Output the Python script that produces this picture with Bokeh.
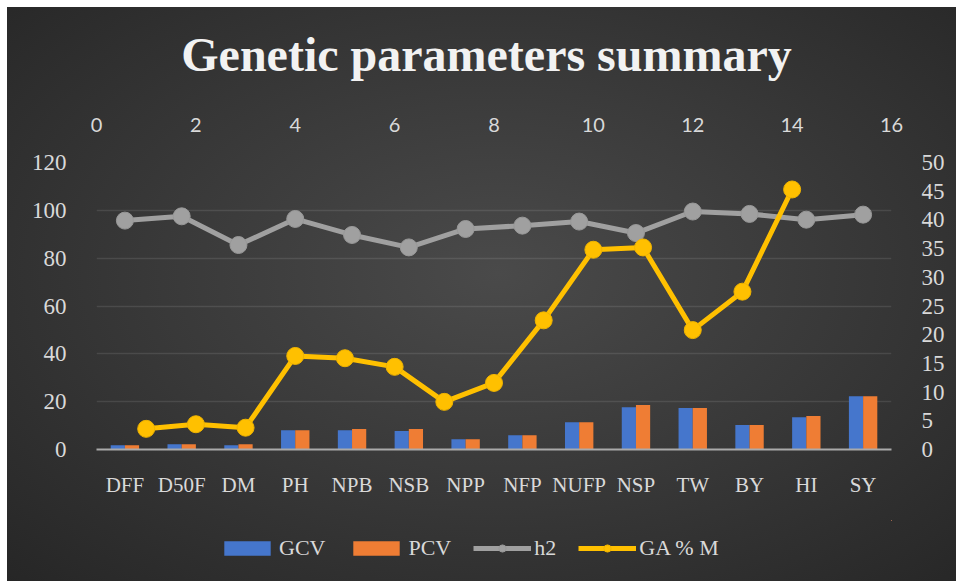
from bokeh.plotting import figure
from bokeh.layouts import column
from bokeh.models import (Range1d, LinearAxis, SingleIntervalTicker, FixedTicker,
                          Legend, LegendItem, ColumnDataSource, Label)
from bokeh.transform import dodge
from bokeh.embed import file_html
from bokeh.resources import INLINE

# ---- data ----
categories = ["DFF", "D50F", "DM", "PH", "NPB", "NSB", "NPP", "NFP", "NUFP", "NSP", "TW", "BY", "HI", "SY"]
gcv = [1.8, 2.2, 1.8, 8.1, 8.1, 7.7, 4.3, 6.0, 11.4, 17.7, 17.3, 10.2, 13.5, 22.3]
pcv = [1.8, 2.2, 2.2, 8.1, 8.6, 8.6, 4.3, 6.0, 11.4, 18.6, 17.3, 10.2, 14.0, 22.3]
h2 = [95.7, 97.5, 85.5, 96.4, 89.7, 84.5, 92.2, 93.6, 95.3, 90.5, 99.5, 98.5, 96.1, 98.2]
ga_x = [1, 2, 3, 4, 5, 6, 7, 8, 9, 10, 11, 12, 13, 14]
ga_m = [3.6, 4.4, 3.8, 16.3, 15.9, 14.4, 8.3, 11.6, 22.5, 34.8, 35.2, 20.8, 27.5, 45.3]

title_text = "Genetic parameters summary"
series_names = ["GCV", "PCV", "h2", "GA % M"]
left_range = (0, 120)
left_step = 20
right_range = (0, 50)
right_step = 5
top_range = (0, 16)
top_step = 2

TXT = "#d9d9d9"
SERIF = "Liberation Serif"
C_GCV, C_PCV, C_H2, C_GA = "#4576cc", "#ef7d34", "#a0a0a0", "#ffc000"
W = 956

# category slots: index positions on the primary (bottom) axis
cat_idx = list(range(len(categories)))


def bare(h, xr=(0, 1), yr=(0, 1)):
    f = figure(width=W, height=h, output_backend="svg", toolbar_location=None,
               x_range=Range1d(*xr), y_range=Range1d(*yr),
               x_axis_type=None, y_axis_type=None,
               min_border=0, border_fill_color=None, background_fill_color=None,
               outline_line_color=None)
    f.grid.visible = False
    return f


# ---------- title strip ----------
tf = bare(100)
tf.add_layout(Label(x=0.4906, y=0.46, text=title_text, text_align="center", text_baseline="middle",
                    text_font=SERIF, text_font_size="48px", text_font_style="bold",
                    text_color="#f2f2f2"))

# ---------- main chart ----------
p = figure(x_range=Range1d(-0.5, len(categories) - 0.5), y_range=Range1d(*left_range),
           width=W, height=420, output_backend="svg", toolbar_location=None,
           min_border_left=96, min_border_right=65, min_border_top=62, min_border_bottom=71,
           border_fill_color=None, background_fill_color=None, outline_line_color=None)

p.extra_x_ranges = {"top": Range1d(*top_range)}
p.extra_y_ranges = {"right": Range1d(*right_range)}

ly = p.yaxis[0]
ly.ticker = SingleIntervalTicker(interval=left_step, num_minor_ticks=0)
ly.axis_line_color = None
ly.major_tick_line_color = None
ly.minor_tick_line_color = None
ly.major_label_standoff = 24
ly.major_label_text_font = SERIF
ly.major_label_text_font_size = "23px"
ly.major_label_text_color = TXT

bx = p.xaxis[0]
bx.ticker = FixedTicker(ticks=cat_idx, minor_ticks=[])
bx.major_label_overrides = {i: c for i, c in zip(cat_idx, categories)}
bx.axis_line_color = "#aaaaaa"
bx.axis_line_width = 2
bx.major_tick_line_color = None
bx.minor_tick_line_color = None
bx.major_label_standoff = 17
bx.major_label_text_font = SERIF
bx.major_label_text_font_size = "21px"
bx.major_label_text_color = TXT

tx = LinearAxis(x_range_name="top", ticker=SingleIntervalTicker(interval=top_step, num_minor_ticks=0))
tx.axis_line_color = None
tx.major_tick_line_color = None
tx.minor_tick_line_color = None
tx.major_label_standoff = 25
tx.major_label_text_font = "Lato"
tx.major_label_text_font_size = "20px"
tx.major_label_text_color = TXT
p.add_layout(tx, "above")

ry = LinearAxis(y_range_name="right", ticker=SingleIntervalTicker(interval=right_step, num_minor_ticks=0))
ry.axis_line_color = None
ry.major_tick_line_color = None
ry.minor_tick_line_color = None
ry.major_label_standoff = 24
ry.major_label_text_font = SERIF
ry.major_label_text_font_size = "23px"
ry.major_label_text_color = TXT
p.add_layout(ry, "right")

p.xgrid.grid_line_color = None
p.ygrid.ticker = ly.ticker
p.ygrid.grid_line_color = "white"
p.ygrid.grid_line_alpha = 0.1
p.ygrid.grid_line_width = 1.5

src = ColumnDataSource(dict(x=cat_idx, gcv=gcv, pcv=pcv, h2=h2))
p.vbar(x=dodge("x", -0.125), top="gcv", width=0.25, source=src, fill_color=C_GCV, line_color=None)
p.vbar(x=dodge("x", 0.125), top="pcv", width=0.25, source=src, fill_color=C_PCV, line_color=None)

p.line(x="x", y="h2", source=src, line_color=C_H2, line_width=5, line_join="round")
p.scatter(x="x", y="h2", source=src, size=17, fill_color=C_H2, line_color="#989898", line_width=1)

p.line(x=ga_x, y=ga_m, x_range_name="top", y_range_name="right",
       line_color=C_GA, line_width=5, line_join="round")
p.scatter(x=ga_x, y=ga_m, x_range_name="top", y_range_name="right",
          size=17, fill_color=C_GA, line_color="#f0b400", line_width=1)

# ---------- legend strip (series re-drawn fully out of view; only their legend swatches show) ----------
lf = bare(61, xr=(-30, -29), yr=(-30, -29))
r1 = lf.vbar(x="x", top="gcv", width=0.25, source=src, fill_color=C_GCV, line_color=None)
r2 = lf.vbar(x="x", top="pcv", width=0.25, source=src, fill_color=C_PCV, line_color=None)
r3 = lf.line(x="x", y="h2", source=src, line_color=C_H2, line_width=5)
r4 = lf.scatter(x="x", y="h2", source=src, size=17, fill_color=C_H2, line_color="#989898")
r5 = lf.line(x=ga_x, y=ga_m, line_color=C_GA, line_width=5)
r6 = lf.scatter(x=ga_x, y=ga_m, size=17, fill_color=C_GA, line_color="#f0b400")
legend = Legend(items=[LegendItem(label=series_names[0], renderers=[r1]),
                       LegendItem(label=series_names[1], renderers=[r2]),
                       LegendItem(label=series_names[2], renderers=[r3, r4]),
                       LegendItem(label=series_names[3], renderers=[r5, r6])],
                orientation="horizontal", location=(122, 20))
legend.background_fill_alpha = 0
legend.border_line_color = None
legend.label_text_font = SERIF
legend.label_text_font_size = "22px"
legend.label_text_color = TXT
legend.glyph_width = 58
legend.glyph_height = 18
legend.label_standoff = 3
legend.spacing = 22
legend.margin = 0
legend.padding = 5
lf.add_layout(legend, "center")

layout = column(tf, p, lf, spacing=0)
layout.styles = {"background": ("linear-gradient(#ffffff,#ffffff) 0 0 / 100% 7px no-repeat, "
                                "linear-gradient(#ffffff,#ffffff) 0 0 / 7px 100% no-repeat, "
                                "radial-gradient(ellipse farthest-corner at 52% 47%, #4a4a4a 0%, #3a3a3a 45%, #262626 100%)")}

open("out.html", "w").write(file_html(layout, INLINE))
